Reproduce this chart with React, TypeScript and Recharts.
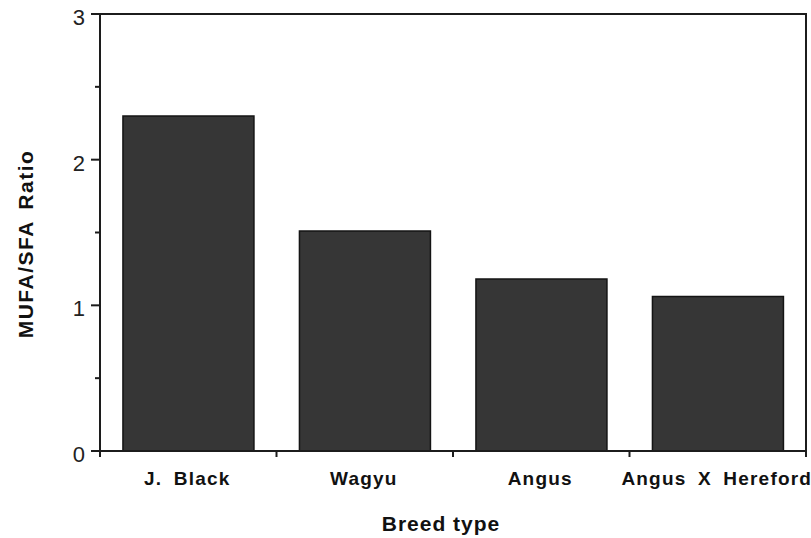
import React from 'react';

import { Bar, BarChart, Label, ReferenceArea, XAxis, YAxis } from 'recharts';

const breeds = ['J. Black', 'Wagyu', 'Angus', 'Angus X Hereford'];
const mufaSfaRatio = [2.3, 1.51, 1.18, 1.06];
const yTicks = [0, 0.5, 1, 1.5, 2, 2.5, 3];

const data = breeds.map((breed, i) => ({ breed, ratio: mufaSfaRatio[i] }));

const WIDTH = 811;
const HEIGHT = 538;
const Y_AXIS_WIDTH = 100;
const MARGIN = { top: 14, right: 5, left: 0, bottom: 0 };
const BAND = (WIDTH - Y_AXIS_WIDTH - MARGIN.right) / breeds.length;

const INK = '#1c1c1c';
const FONT = '"Liberation Sans", Arial, Helvetica, sans-serif';

const YTick = ({ x, y, payload }: any): JSX.Element => {
  const major = Number.isInteger(payload.value);
  return (
    <g>
      <line x1={x - (major ? 9 : 5)} x2={x} y1={y} y2={y} stroke={INK} strokeWidth={2} />
      {major && (
        <text x={x - 15} y={y + 11} textAnchor="end" fontSize={22} fontFamily={FONT} fill="#222">
          {payload.value}
        </text>
      )}
    </g>
  );
};

const XTick = ({ x, y, payload, index }: any): JSX.Element => {
  const left = x - BAND / 2;
  return (
    <g>
      <line x1={left} x2={left} y1={y} y2={y + 6} stroke={INK} strokeWidth={2} />
      {index === breeds.length - 1 && (
        <line x1={x + BAND / 2} x2={x + BAND / 2} y1={y} y2={y + 6} stroke={INK} strokeWidth={2} />
      )}
      <text
        x={x - 1}
        y={y + 34}
        textAnchor="middle"
        fontSize={19}
        fontWeight="bold"
        letterSpacing={1.2}
        wordSpacing={5}
        fontFamily={FONT}
        fill="#111"
      >
        {payload.value}
      </text>
    </g>
  );
};

export default function App(): JSX.Element {
  return (
    <div style={{ position: 'absolute', left: 0, top: 0, width: WIDTH, height: HEIGHT, background: '#fff' }}>
      <BarChart width={WIDTH} height={HEIGHT} data={data} margin={MARGIN} barCategoryGap="13%">
        <XAxis
          dataKey="breed"
          height={87}
          interval={0}
          tickSize={0}
          tickMargin={0}
          tickLine={false}
          axisLine={{ stroke: INK, strokeWidth: 2 }}
          tick={<XTick />}
        >
          <Label
            content={() => (
              <text
                x={441}
                y={531}
                textAnchor="middle"
                fontSize={21}
                fontWeight="bold"
                letterSpacing={1}
                fontFamily={FONT}
                fill="#111"
              >
                Breed type
              </text>
            )}
          />
        </XAxis>
        <YAxis
          width={Y_AXIS_WIDTH}
          domain={[0, 3]}
          ticks={yTicks}
          interval={0}
          tickSize={0}
          tickMargin={0}
          tickLine={false}
          axisLine={{ stroke: INK, strokeWidth: 2 }}
          tick={<YTick />}
        >
          <Label
            content={() => (
              <text
                x={33}
                y={244}
                transform="rotate(-90 33 244)"
                textAnchor="middle"
                fontSize={21}
                fontWeight="bold"
                letterSpacing={1.5}
                wordSpacing={4}
                fontFamily={FONT}
                fill="#111"
              >
                MUFA/SFA Ratio
              </text>
            )}
          />
        </YAxis>
        {/* frame around the plot */}
        <ReferenceArea
          x1={breeds[0]}
          x2={breeds[breeds.length - 1]}
          y1={0}
          y2={3}
          fill="none"
          stroke={INK}
          strokeWidth={2}
          ifOverflow="visible"
        />
        <Bar dataKey="ratio" fill="#363636" stroke="#141414" strokeWidth={1.5} isAnimationActive={false} />
      </BarChart>
    </div>
  );
}
